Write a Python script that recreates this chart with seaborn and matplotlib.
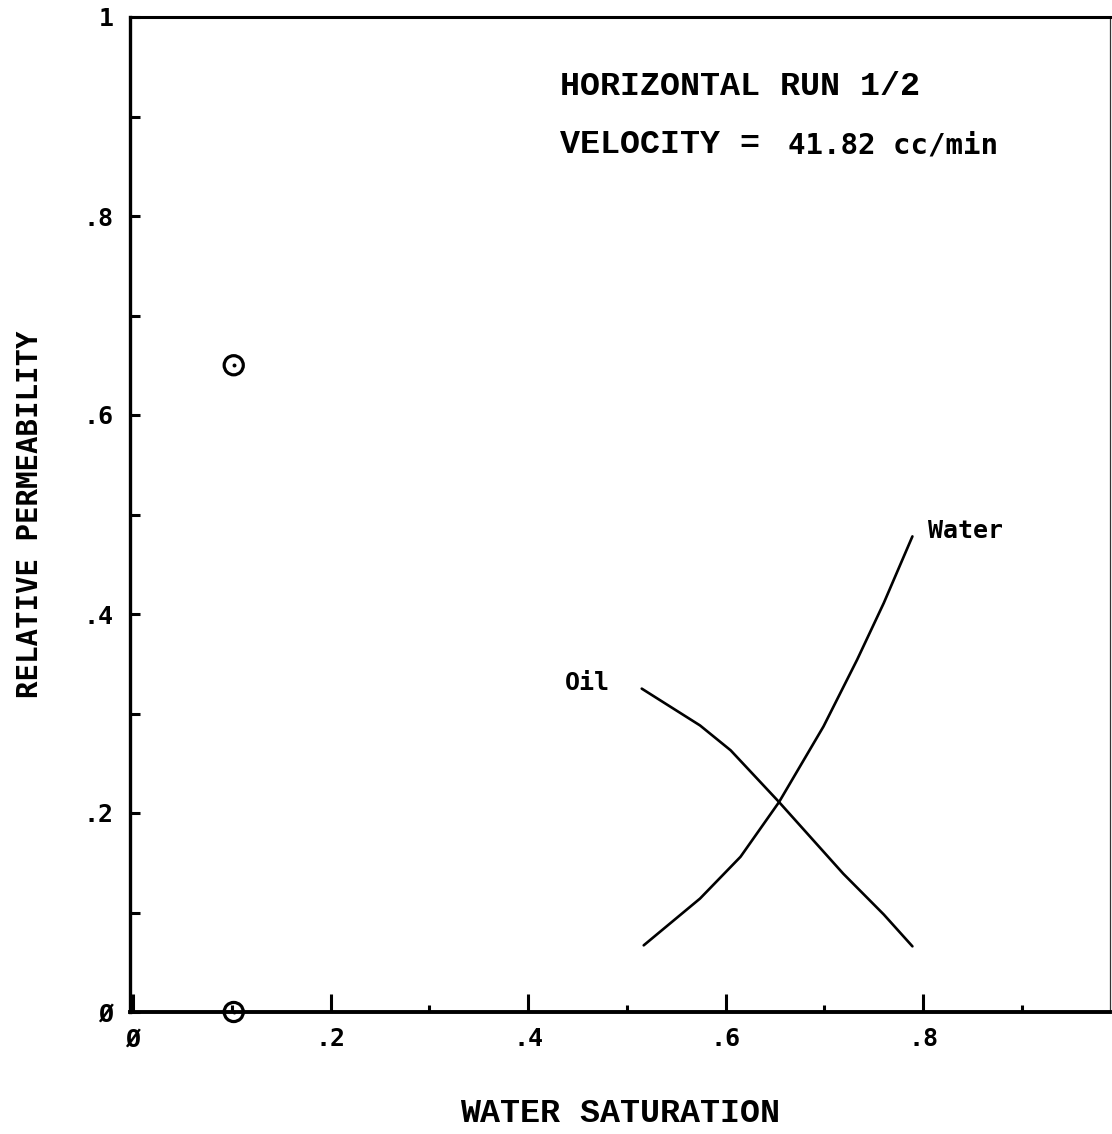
import matplotlib
matplotlib.use("Agg")
import matplotlib.pyplot as plt
import seaborn as sns
import pandas as pd
from matplotlib.ticker import FixedLocator

# Relative permeability curves (water saturation vs kr)
water_sw = [0.517, 0.574, 0.615, 0.654, 0.699, 0.733, 0.760, 0.789]
water_kr = [0.067, 0.114, 0.156, 0.211, 0.287, 0.354, 0.411, 0.478]

oil_sw = [0.515, 0.574, 0.605, 0.654, 0.719, 0.760, 0.789]
oil_kr = [0.325, 0.288, 0.263, 0.211, 0.139, 0.098, 0.066]

# End-point measurements
point_sw = [0.102, 0.102]
point_kr = [0.650, 0.000]

x_major = [0.0, 0.2, 0.4, 0.6, 0.8]
x_major_labels = ["Ø", ".2", ".4", ".6", ".8"]
y_major = [0.0, 0.2, 0.4, 0.6, 0.8, 1.0]
y_major_labels = ["Ø", ".2", ".4", ".6", ".8", "1"]

sns.set_theme(style="white")
plt.rcParams["font.family"] = ["DejaVu Sans Mono", "DejaVu Sans"]
plt.rcParams["text.color"] = "black"
plt.rcParams["axes.labelcolor"] = "black"
plt.rcParams["xtick.color"] = "black"
plt.rcParams["ytick.color"] = "black"

fig = plt.figure(figsize=(11.12, 11.34), dpi=100)
ax = fig.add_axes([130 / 1112, 1 - 1012 / 1134, 980 / 1112, 995 / 1134])

water = pd.DataFrame({"sw": water_sw, "kr": water_kr})
oil = pd.DataFrame({"sw": oil_sw, "kr": oil_kr})
pts = pd.DataFrame({"sw": point_sw, "kr": point_kr})

sns.lineplot(data=water, x="sw", y="kr", ax=ax, color="black", lw=1.9,
             sort=False, estimator=None)
sns.lineplot(data=oil, x="sw", y="kr", ax=ax, color="black", lw=1.9,
             sort=False, estimator=None)

sns.scatterplot(data=pts, x="sw", y="kr", ax=ax, marker="o", s=190,
                facecolor="none", edgecolor="black", linewidth=2.3,
                clip_on=False, zorder=5)
sns.scatterplot(data=pts, x="sw", y="kr", ax=ax, marker="o", s=8,
                color="black", linewidth=0, clip_on=False, zorder=6)

ax.set_xlim(-0.003, 0.989)
ax.set_ylim(0, 1.0)

# Axes frame
for side in ["left", "bottom", "top"]:
    ax.spines[side].set_visible(True)
    ax.spines[side].set_color("black")
ax.spines["left"].set_linewidth(2.4)
ax.spines["bottom"].set_linewidth(2.8)
ax.spines["top"].set_linewidth(2.2)
ax.spines["right"].set_linewidth(0.9)
ax.spines["right"].set_color("#333333")

ax.xaxis.set_major_locator(FixedLocator(x_major))
ax.set_xticklabels(x_major_labels)
ax.xaxis.set_minor_locator(FixedLocator([0.1, 0.3, 0.5, 0.7, 0.9]))
ax.yaxis.set_major_locator(FixedLocator(y_major))
ax.set_yticklabels(y_major_labels)
ax.yaxis.set_minor_locator(FixedLocator([0.1, 0.3, 0.5, 0.7, 0.9]))

ax.tick_params(axis="x", which="major", direction="in", length=13, width=2.2,
               bottom=True, top=False, labelsize=18, pad=11)
ax.tick_params(axis="x", which="minor", direction="in", length=5, width=2.2,
               bottom=True, top=False)
ax.tick_params(axis="y", which="major", direction="in", length=7, width=2.2,
               left=True, right=False, labelsize=18, pad=12)
ax.tick_params(axis="y", which="minor", direction="in", length=7, width=2.2,
               left=True, right=False)
for lab in ax.get_xticklabels() + ax.get_yticklabels():
    lab.set_fontfamily(["DejaVu Sans Mono", "DejaVu Sans"])
    lab.set_fontweight("bold")

ax.set_xlabel("WATER SATURATION", fontsize=24, fontweight="bold",
              fontfamily="Liberation Mono", labelpad=34)
ax.set_ylabel("RELATIVE PERMEABILITY", fontsize=21, fontweight="bold",
              fontfamily="DejaVu Sans Mono", labelpad=28)

# Run description
ax.text(0.432, 0.9216, "HORIZONTAL RUN 1/2", fontsize=24, fontweight="bold",
        fontfamily="Liberation Mono", ha="left", va="baseline")
ax.text(0.432, 0.863, "VELOCITY =", fontsize=24, fontweight="bold",
        fontfamily="Liberation Mono", ha="left", va="baseline")
ax.text(0.663, 0.863, "41.82 cc/min", fontsize=21, fontweight="bold",
        fontfamily="DejaVu Sans Mono", ha="left", va="baseline")

# Curve labels
ax.text(0.4375, 0.3236, "Oil", fontsize=18, fontfamily="DejaVu Sans Mono",
        fontweight="bold", ha="left", va="baseline")
ax.text(0.805, 0.476, "Water", fontsize=18, fontfamily="DejaVu Sans Mono",
        fontweight="bold", ha="left", va="baseline")

fig.savefig("out.png", dpi=100, facecolor="white")
